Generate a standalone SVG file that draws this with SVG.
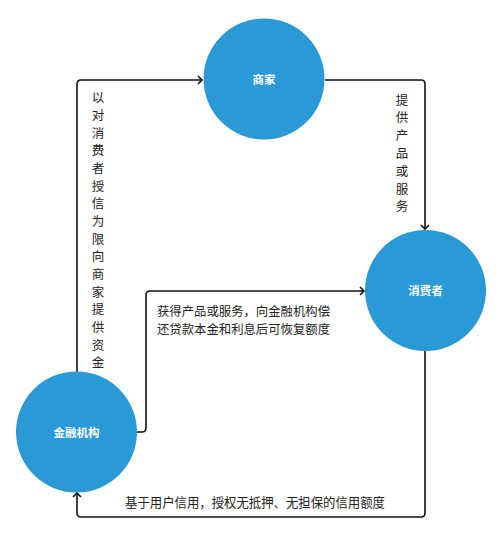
<svg xmlns="http://www.w3.org/2000/svg" width="500" height="535" viewBox="0 0 500 535">
<style>
.node{fill:#2a99d5}
.nl{font-family:"Noto Sans CJK SC","Noto Sans",sans-serif;font-size:11.5px;font-weight:bold;fill:#fff;text-anchor:middle}
.lbl{font-family:"Noto Sans CJK SC","Noto Sans",sans-serif;font-size:12.5px;fill:#222}
.vl{text-anchor:middle}
.edge{fill:none;stroke:#111;stroke-width:1.6}
</style>
<defs>
<marker id="arr" markerUnits="userSpaceOnUse" markerWidth="10" markerHeight="12" refX="5" refY="5" orient="auto" viewBox="0 0 10 10">
<path d="M1,1 L5,5 L1,9" fill="none" stroke="#111" stroke-width="1.6"/>
</marker>
</defs>
<rect width="500" height="535" fill="#fff"/>
<g id="connectors">
<path class="edge" d="M77,372 V84 Q77,80 81,80 H202" marker-end="url(#arr)"/>
<path class="edge" d="M325,80 H421 Q425,80 425,84 V229" marker-end="url(#arr)"/>
<path class="edge" d="M137,432 H142 Q146,432 146,428 V295 Q146,291 150,291 H364" marker-end="url(#arr)"/>
<path class="edge" d="M425,351 V513 Q425,517 421,517 H81 Q77,517 77,513 V493" marker-end="url(#arr)"/>
</g>
<g id="labels">
<text class="lbl vl" x="98">
<tspan x="98" y="102.2">以</tspan><tspan x="98" y="119.9">对</tspan><tspan x="98" y="137.5">消</tspan><tspan x="98" y="155.2">费</tspan><tspan x="98" y="172.9">者</tspan><tspan x="98" y="190.5">授</tspan><tspan x="98" y="208.2">信</tspan><tspan x="98" y="225.9">为</tspan><tspan x="98" y="243.5">限</tspan><tspan x="98" y="261.2">向</tspan><tspan x="98" y="278.9">商</tspan><tspan x="98" y="296.5">家</tspan><tspan x="98" y="314.2">提</tspan><tspan x="98" y="331.9">供</tspan><tspan x="98" y="349.5">资</tspan><tspan x="98" y="367.2">金</tspan>
</text>
<text class="lbl vl" x="402">
<tspan x="402" y="104.5">提</tspan><tspan x="402" y="122.3">供</tspan><tspan x="402" y="140.1">产</tspan><tspan x="402" y="157.9">品</tspan><tspan x="402" y="175.7">或</tspan><tspan x="402" y="193.5">服</tspan><tspan x="402" y="211.3">务</tspan>
</text>
<text class="lbl" x="157" y="315.5" textLength="173" lengthAdjust="spacingAndGlyphs">获得产品或服务，向金融机构偿</text>
<text class="lbl" x="157" y="333.5" textLength="173" lengthAdjust="spacingAndGlyphs">还贷款本金和利息后可恢复额度</text>
<text class="lbl" x="125" y="507" style="font-size:13px" textLength="260" lengthAdjust="spacingAndGlyphs">基于用户信用，授权无抵押、无担保的信用额度</text>
</g>
<g id="node-merchant">
<circle class="node" cx="264" cy="79" r="60.5"/>
<text class="nl" x="264" y="84">商家</text>
</g>
<g id="node-consumer">
<circle class="node" cx="425.5" cy="290.5" r="60.5"/>
<text class="nl" x="425.5" y="295">消费者</text>
</g>
<g id="node-bank">
<circle class="node" cx="76.5" cy="432" r="60.5"/>
<text class="nl" x="76.5" y="437">金融机构</text>
</g>
</svg>
